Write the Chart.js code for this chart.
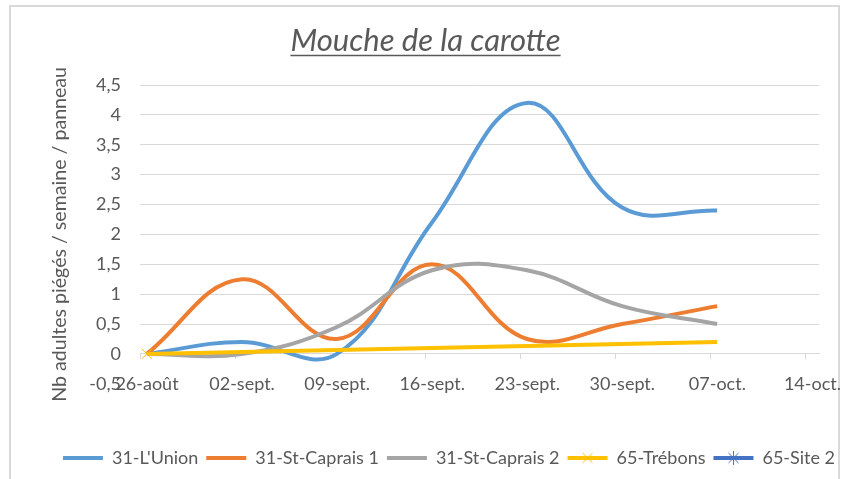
<!DOCTYPE html>
<html>
<head>
<meta charset="utf-8">
<script src="https://cdn.jsdelivr.net/npm/chart.js@4.4.1/dist/chart.umd.min.js"></script>
<style>
  html, body { margin: 0; padding: 0; background: #fff; overflow: hidden; }
  #frame { position: absolute; left: 9px; top: 5px; width: 827px; height: 600px; border: 2px solid #d9d9d9; }
  #wrap { position: absolute; left: 0; top: 0; width: 841px; height: 479px; }
</style>
</head>
<body>
<div id="frame"></div>
<div id="wrap"><canvas id="chart"></canvas></div>
<script>
/* ============================================================
   Mouche de la carotte - piégeage hebdomadaire
   ============================================================ */

// ---- Données ----
const xLabels = ['26-août', '02-sept.', '09-sept.', '16-sept.', '23-sept.', '30-sept.', '07-oct.', '14-oct.'];
const releveJours = [0, 7, 14, 21, 28, 35, 42];   // jours depuis le 26-août
const lUnion     = [0, 0.2, 0, 2.2, 4.2, 2.45, 2.4];
const stCaprais1 = [0, 1.25, 0.25, 1.5, 0.25, 0.5, 0.8];
const stCaprais2 = [0, 0, 0.45, 1.4, 1.4, 0.8, 0.5];
const trebonsJours = [0, 42];
const trebons      = [0, 0.2];
const site2Jours = [];
const site2      = [];
const yMin = -0.5, yMax = 4.5, yStep = 0.5;

const titre = 'Mouche de la carotte';
const titreAxeY = 'Nb adultes piégés / semaine / panneau';

const TEXT = '#595959';
const GRID = '#d9d9d9';
Chart.defaults.font.family = "Lato, 'Open Sans', sans-serif";
Chart.defaults.color = TEXT;

const toPoints = (days, vals) => vals.map((v, i) => ({ x: days[i], y: v }));

function serie(label, color, days, vals, order, marker) {
  return {
    label, data: toPoints(days, vals),
    borderColor: color, backgroundColor: color,
    borderWidth: 4, tension: 0.4, fill: false, order,
    pointRadius: 0, pointHoverRadius: 0,
    marker
  };
}

const trebonsSerie = serie('65-Trébons', '#FFC000', trebonsJours, trebons, 2, 'crossRot');
trebonsSerie.pointStyle = 'crossRot';
trebonsSerie.pointBorderWidth = 1;
trebonsSerie.pointRadius = (c) => c.dataIndex === 0 ? 7 : 0;

const datasets = [
  serie("31-L'Union", '#5B9BD5', releveJours, lUnion, 5),
  serie('31-St-Caprais 1', '#ED7D31', releveJours, stCaprais1, 4),
  serie('31-St-Caprais 2', '#A5A5A5', releveJours, stCaprais2, 3),
  trebonsSerie,
  serie('65-Site 2', '#4472C4', site2Jours, site2, 1, 'star'),
];

// ---- Marqueurs dessinés à la main ----
function drawMarker(ctx, style, x, y, r, color) {
  const d = r * Math.SQRT1_2;
  ctx.save();
  ctx.strokeStyle = color;
  ctx.lineWidth = 1;
  ctx.beginPath();
  ctx.moveTo(x - d, y - d); ctx.lineTo(x + d, y + d);
  ctx.moveTo(x - d, y + d); ctx.lineTo(x + d, y - d);
  if (style === 'star') { ctx.moveTo(x, y - r); ctx.lineTo(x, y + r); }
  ctx.stroke();
  ctx.restore();
}

const legendMarkers = {
  id: 'legendMarkers',
  afterDraw(chart) {
    const lg = chart.legend;
    const lo = lg.options.labels;
    lg.legendItems.forEach((item, i) => {
      const ds = chart.data.datasets[item.datasetIndex];
      if (!ds.marker) return;
      const hb = lg.legendHitBoxes[i];
      drawMarker(chart.ctx, ds.marker, hb.left + lo.boxWidth / 2, hb.top + lo.font.size / 2, 7, ds.borderColor);
    });
  }
};

const underlinedTitle = {
  id: 'underlinedTitle',
  afterDraw(chart) {
    const ctx = chart.ctx;
    const x = chart.width / 2 + 5, y = 51;
    ctx.save();
    ctx.font = "italic 31px Lato, 'Open Sans', sans-serif";
    ctx.fillStyle = TEXT;
    ctx.textAlign = 'center';
    ctx.textBaseline = 'alphabetic';
    ctx.fillText(titre, x, y);
    const w = ctx.measureText(titre).width;
    ctx.strokeStyle = TEXT;
    ctx.lineWidth = 1.5;
    ctx.beginPath();
    ctx.moveTo(x - w / 2, y + 4.5);
    ctx.lineTo(x + w / 2, y + 4.5);
    ctx.stroke();
    ctx.restore();
  }
};

new Chart(document.getElementById('chart'), {
  type: 'line',
  data: { datasets },
  options: {
    responsive: true,
    maintainAspectRatio: false,
    animation: false,
    events: [],
    layout: { padding: { left: 37, right: -20, top: 85, bottom: 2 } },
    scales: {
      x: {
        type: 'linear', min: -0.5, max: 49.5,
        position: { y: 0 },
        afterBuildTicks: (s) => { s.ticks = xLabels.map((_, i) => ({ value: i * 7 - 0.5 })); },
        afterFit: (s) => { s.paddingLeft = 0; s.paddingRight = 0; },
        grid: { drawOnChartArea: false, drawTicks: true, tickLength: 5, color: GRID },
        border: { display: true, color: GRID, width: 1 },
        ticks: {
          autoSkip: false, maxRotation: 0, color: TEXT, font: { size: 18 },
          padding: 14, labelOffset: 7,
          callback: (v, i) => xLabels[i]
        }
      },
      y: {
        min: yMin, max: yMax,
        afterFit: (s) => { s.width = 140 - 37; },
        ticks: {
          stepSize: yStep, color: TEXT, font: { size: 18 }, padding: 19,
          callback: (v) => String(v).replace('.', ',')
        },
        grid: { drawTicks: false, color: (c) => c.tick.value < 0 ? 'rgba(0,0,0,0)' : GRID },
        border: { display: false },
        title: { display: true, text: titreAxeY, color: TEXT, font: { size: 19.6 }, padding: { top: 11 } }
      },
      yDroite: {
        position: 'right',
        grid: { display: false }, border: { display: false }, ticks: { display: false },
        afterFit: (s) => { s.width = 861 - 819; }
      }
    },
    plugins: {
      tooltip: { enabled: false },
      legend: {
        position: 'bottom',
        title: { display: true, text: ' ', font: { size: 1 }, padding: { top: 0, bottom: 56 } },
        labels: {
          boxWidth: 40, boxHeight: 4, padding: 8, color: TEXT, font: { size: 18 },
          generateLabels: (chart) => chart.data.datasets.map((ds, i) => ({
            text: ds.label, fillStyle: ds.borderColor, strokeStyle: ds.borderColor,
            lineWidth: 0, hidden: false, datasetIndex: i, fontColor: TEXT
          }))
        }
      }
    }
  },
  plugins: [legendMarkers, underlinedTitle]
});
</script>
</body>
</html>
